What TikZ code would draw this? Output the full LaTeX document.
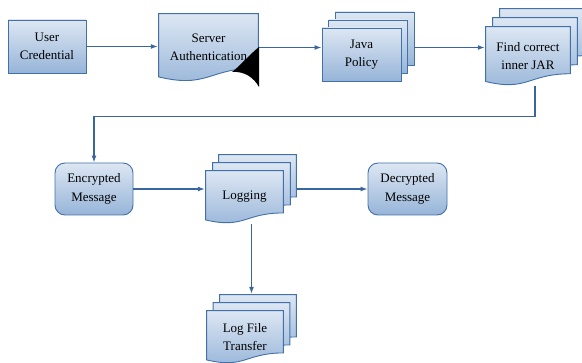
\documentclass[tikz,border=0pt]{standalone}
\usepackage{fontspec}
\setmainfont{Liberation Serif}
\usepackage{xcolor}
\usepackage{tikz}
\usetikzlibrary{arrows.meta, positioning, calc}

\definecolor{shadetop}{RGB}{221,231,243}
\definecolor{shadebot}{RGB}{150,180,216}
\definecolor{edgeblue}{RGB}{66,112,168}
\definecolor{lineblue}{RGB}{58,102,160}

\begin{document}
\begin{tikzpicture}[
    x=1pt, y=-1pt,
    every node/.style={font=\fontsize{13}{18.5}\selectfont, align=center, inner sep=0pt},
    box/.style={draw=edgeblue, line width=0.9pt, top color=shadetop, bottom color=shadebot, rectangle},
    rbox/.style={box, rounded corners=10pt},
    doc/.style={path picture={
        \coordinate (dnw) at ($(path picture bounding box.north west)+(0.6pt,-0.6pt)$);
        \coordinate (dse) at ($(path picture bounding box.south east)+(-0.6pt,0.6pt)$);
        \coordinate (dmb) at ($(dse)!0.5!(dnw |- dse)$);
        \coordinate (dmt) at ($(dnw)!0.5!(dnw -| dse)$);
        \shade[draw=edgeblue, line width=0.9pt, top color=shadetop, bottom color=shadebot]
            (dnw) -- (dnw -| dse) -- ($(dse)!0.198!(dse |- dnw)$)
            .. controls ($(dmb)!0.198!(dmt)$) and ($(dmb)!-0.108!(dmt)$) .. ($(dnw |- dse)!0.066!(dnw)$) -- cycle;
    }},
    conn/.style={draw=lineblue, line width=1.3pt, -{Latex[length=7pt, width=5pt]}}
]
    \useasboundingbox (0,0) rectangle (582,363);

    % Top row
    \node[box, minimum width=78, minimum height=53] (user) at (47,46.5) {User\\Credential};
    \node[doc, minimum width=101, minimum height=69] (server) at (208.5,47.5) {Server\\Authentication};
    \fill[black] (259,47) .. controls (249,55) and (240,66) .. (232,72) .. controls (245,71) and (254,78) .. (259,87) -- cycle;

    \node[box, minimum width=79, minimum height=53] (java3) at (374.5,38.5) {};
    \node[box, minimum width=79, minimum height=53] (java2) at (368,46.5) {};
    \node[box, minimum width=79, minimum height=53] (java) at (361.5,54.5) {Java\\Policy};

    \node[doc, minimum width=86, minimum height=60] (find3) at (542,38) {};
    \node[doc, minimum width=86, minimum height=60] (find2) at (535,47) {};
    \node[doc, minimum width=86, minimum height=60] (find) at (528,56) {Find correct\\inner JAR};

    % Middle row
    \node[rbox, minimum width=78, minimum height=52] (enc) at (94,189) {Encrypted\\Message};

    \node[doc, minimum width=79, minimum height=54] (log3) at (257.5,181) {};
    \node[doc, minimum width=79, minimum height=54] (log2) at (251.5,189) {};
    \node[doc, minimum width=79, minimum height=54] (log) at (244.5,197) {Logging};

    \node[rbox, minimum width=79, minimum height=52] (dec) at (407.5,189) {Decrypted\\Message};

    % Bottom
    \node[doc, minimum width=78, minimum height=54] (lft3) at (258,321) {};
    \node[doc, minimum width=78, minimum height=54] (lft2) at (251.5,329) {};
    \node[doc, minimum width=78, minimum height=54] (lft) at (245,337) {Log File\\Transfer};

    % Connectors
    \draw[conn] (user.east) -- (user.east -| server.west);
    \draw[conn] (server.east) -- (server.east -| java.west);
    \draw[conn] (java3.east |- server.east) -- (server.east -| find.west);
    \draw[conn] ($(find.south)+(7,0)$) |- ($(enc.north)+(0,-46)$) -- (enc.north);
    \draw[conn] (enc.east) -- (enc.east -| log.west);
    \draw[conn] (log3.east |- dec.west) -- (dec.west);
    \draw[conn] (log.south -| log2) -- (lft3.north -| log2);

\end{tikzpicture}
\end{document}
